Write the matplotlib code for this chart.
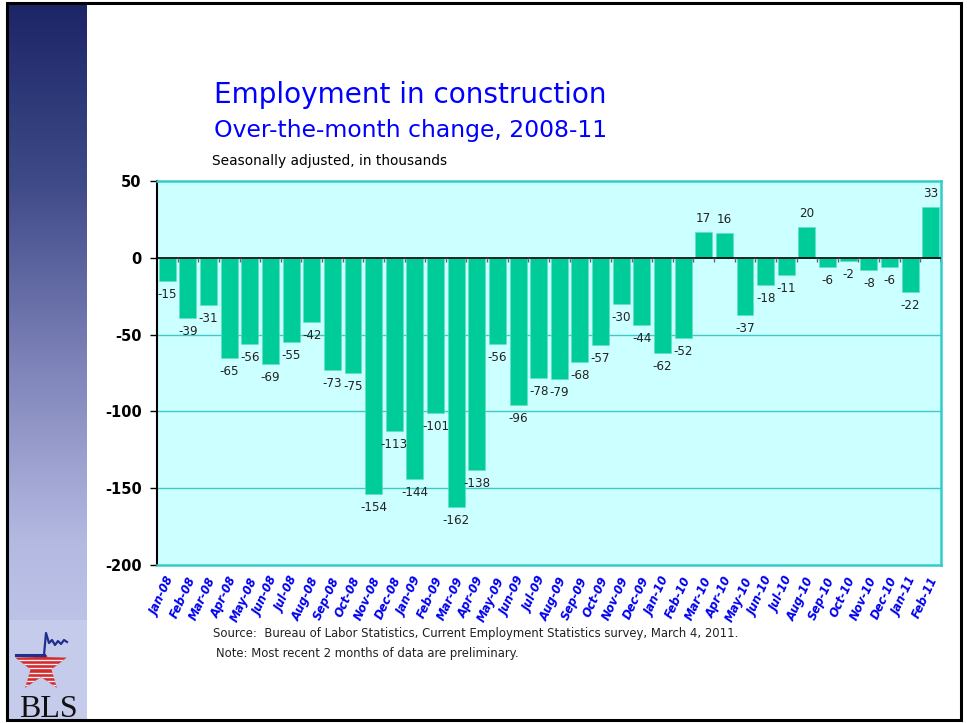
import numpy as np
import matplotlib
matplotlib.use("Agg")
import matplotlib.pyplot as plt
from matplotlib.patches import Rectangle, Polygon
from matplotlib.colors import LinearSegmentedColormap
from matplotlib.transforms import ScaledTranslation

months = ["Jan-08","Feb-08","Mar-08","Apr-08","May-08","Jun-08","Jul-08","Aug-08",
          "Sep-08","Oct-08","Nov-08","Dec-08","Jan-09","Feb-09","Mar-09","Apr-09",
          "May-09","Jun-09","Jul-09","Aug-09","Sep-09","Oct-09","Nov-09","Dec-09",
          "Jan-10","Feb-10","Mar-10","Apr-10","May-10","Jun-10","Jul-10","Aug-10",
          "Sep-10","Oct-10","Nov-10","Dec-10","Jan-11","Feb-11"]
changes = [-15,-39,-31,-65,-56,-69,-55,-42,-73,-75,-154,-113,-144,-101,-162,-138,
           -56,-96,-78,-79,-68,-57,-30,-44,-62,-52,17,16,-37,-18,-11,20,
           -6,-2,-8,-6,-22,33]
yticks = [50, 0, -50, -100, -150, -200]

W, H = 967, 723
fig = plt.figure(figsize=(W/100, H/100), dpi=100)
fig.patch.set_facecolor("white")

def fx(px): return px / W
def fy(py): return 1 - py / H

# sidebar gradient
sb = fig.add_axes([fx(8), fy(720), fx(87) - fx(8), fy(3) - fy(720)])
cmap = LinearSegmentedColormap.from_list("sb", ["#1c2667", "#3f4a88", "#7d82b8", "#b4b9e2", "#c8cdee"])
grad = np.linspace(0, 1, 256).reshape(-1, 1)
sb.imshow(grad, aspect="auto", cmap=cmap, extent=[0, 1, 0, 1], origin="upper")
sb.set_axis_off()

# logo area (pixel coordinates)
logo = fig.add_axes([fx(8), fy(720), fx(87) - fx(8), fy(620) - fy(720)])
logo.set_xlim(8, 87); logo.set_ylim(720, 620)
logo.set_facecolor("#c5cbea")
logo.set_xticks([]); logo.set_yticks([])
for s in logo.spines.values():
    s.set_visible(False)
cx, cy, ro, ri = 41, 666, 27, 11
pts = []
for k in range(10):
    ang = -np.pi / 2 + k * np.pi / 5
    r = ro if k % 2 == 0 else ri
    pts.append((cx + r * np.cos(ang), cy + r * np.sin(ang)))
star = Polygon(pts, closed=True, facecolor="#d42a2a", edgecolor="none", zorder=2)
logo.add_patch(star)
clip = Rectangle((8, 655), 80, 60, transform=logo.transData)
star.set_clip_path(clip)
star_clip = Polygon(pts, closed=True, transform=logo.transData)
for yy in np.arange(660, 692, 4.2):
    ln, = logo.plot([8, 87], [yy, yy], color="#f2f2f8", lw=1.0, zorder=3)
    ln.set_clip_path(star_clip)
logo.plot([16, 44], [655, 655], color="#1f2f8f", lw=2.2, zorder=4)
logo.plot([44, 46, 49, 52, 55, 58, 61, 64, 67], [655, 633, 643, 640, 645, 641, 644, 640, 642],
          color="#1f2f8f", lw=1.6, zorder=4)
logo.text(48, 717, "BLS", family="Liberation Serif", fontsize=23, ha="center", va="baseline",
          color="#111111", zorder=5)

# main chart axes
x0, x1, ytop, ybot = 157, 941, 181, 565
ax = fig.add_axes([fx(x0), fy(ybot), fx(x1) - fx(x0), fy(ytop) - fy(ybot)])
ax.set_facecolor("#ccffff")
x = np.arange(len(months))
ax.set_xlim(-0.5, len(months) - 0.5)
ax.set_ylim(-200, 50)
for yv in [-50, -100, -150]:
    ax.axhline(yv, color="#40c8c8", lw=1.0, zorder=1)
ax.bar(x, changes, width=0.82, color="#00cc99", edgecolor="#66e0c0", linewidth=0.4, zorder=2)
ax.axhline(0, color="black", lw=1.2, zorder=3)
ax.vlines(x[:-1] + 0.5, -2.5, 0, color="#666666", lw=1.0, zorder=3)
ax.vlines([len(months) - 0.5], -2.5, 0, color="black", lw=1.0, zorder=3)

for xi, v in zip(x, changes):
    if v >= 0:
        ax.annotate(str(v), (xi, v), xytext=(0, 5), textcoords="offset points",
                    ha="center", va="bottom", fontsize=8.6, color="#222222")
    else:
        ax.annotate(str(v), (xi, v), xytext=(0, -5), textcoords="offset points",
                    ha="center", va="top", fontsize=8.6, color="#222222")

ax.set_yticks(yticks)
ax.set_yticklabels([str(t) for t in yticks], fontsize=10.5, fontweight="bold")
ax.tick_params(axis="y", direction="out", length=5, width=1, pad=6)
ax.set_xticks(x)
ax.set_xticklabels(months, rotation=65, ha="right", va="center", rotation_mode="anchor",
                   fontsize=8.4, fontweight="bold", fontstyle="italic", color="#0000ee")
ax.tick_params(axis="x", length=0, pad=9)
off = ScaledTranslation(4 / 100, 0, fig.dpi_scale_trans)
for lbl in ax.get_xticklabels():
    lbl.set_transform(lbl.get_transform() + off)
ax.spines["left"].set_color("black")
ax.spines["left"].set_linewidth(1.5)
for s in ["top", "right", "bottom"]:
    ax.spines[s].set_color("#33cccc")
    ax.spines[s].set_linewidth(1.8)

# titles
fig.text(fx(214), fy(95), "Employment in construction", fontsize=20.1, color="#0000ff", va="center", ha="left")
fig.text(fx(214), fy(131), "Over-the-month change, 2008-11", fontsize=16.9, color="#0000ff", va="center", ha="left")
fig.text(fx(212), fy(161), "Seasonally adjusted, in thousands", fontsize=9.9, color="black", va="center", ha="left")
fig.text(fx(213), fy(633), "Source:  Bureau of Labor Statistics, Current Employment Statistics survey, March 4, 2011.",
         fontsize=8.35, color="#222222", va="center", ha="left")
fig.text(fx(216), fy(654), "Note: Most recent 2 months of data are preliminary.",
         fontsize=8.35, color="#222222", va="center", ha="left")

# outer border
fig.patches.append(Rectangle((fx(7), fy(720)), fx(961) - fx(7), fy(3) - fy(720), transform=fig.transFigure,
                             fill=False, edgecolor="black", lw=2.2, zorder=10))

fig.savefig("out.png", dpi=100)
